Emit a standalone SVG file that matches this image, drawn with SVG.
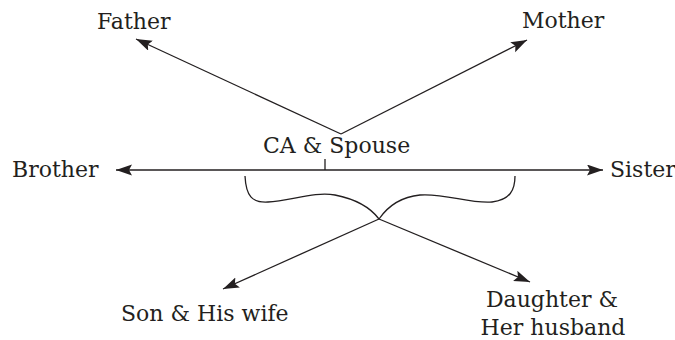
<svg xmlns="http://www.w3.org/2000/svg" width="675" height="340" viewBox="0 0 675 340">
  <style>
    .lbl { font-family: "DejaVu Serif", "Liberation Serif", serif; font-size: 22px; fill: #231f20; }
    .ln { stroke: #231f20; stroke-width: 1.3; fill: none; }
    .arr { marker-end: url(#head); }
  </style>
  <defs>
    <marker id="head" markerUnits="userSpaceOnUse" markerWidth="18" markerHeight="12" refX="16" refY="5.5" orient="auto">
      <path d="M0,0 L16,5.5 L0,11 L3,5.5 z" fill="#231f20"/>
    </marker>
  </defs>
  <rect width="675" height="340" fill="#ffffff"/>

  <g id="connectors">
    <line class="ln arr" x1="341" y1="134" x2="136" y2="39"/>
    <line class="ln arr" x1="341" y1="134" x2="527" y2="40"/>
    <line class="ln arr" x1="325" y1="170" x2="116" y2="170"/>
    <line class="ln arr" x1="325" y1="170" x2="603" y2="170"/>
    <line class="ln" x1="325" y1="159" x2="325" y2="170"/>
    <path class="ln" d="M245,176 C246,196 252,203 268,202 C290,201 315,191 335,195 C355,199 370,207 379,219 C388,206 400,197 420,195 C445,193 470,204 492,202 C510,200 515,190 515,176"/>
    <line class="ln arr" x1="379" y1="219" x2="223" y2="289"/>
    <line class="ln arr" x1="379" y1="219" x2="530" y2="282"/>
  </g>

  <g id="father"><text class="lbl" x="97" y="29">Father</text></g>
  <g id="mother"><text class="lbl" x="522" y="28">Mother</text></g>
  <g id="ca-spouse"><text class="lbl" x="263" y="153">CA &amp; Spouse</text></g>
  <g id="brother"><text class="lbl" x="12" y="177">Brother</text></g>
  <g id="sister"><text class="lbl" x="610" y="177">Sister</text></g>
  <g id="son"><text class="lbl" x="121" y="321">Son &amp; His wife</text></g>
  <g id="daughter">
    <text class="lbl" x="552" y="307" text-anchor="middle">Daughter &amp;</text>
    <text class="lbl" x="553" y="335" text-anchor="middle">Her husband</text>
  </g>
</svg>
